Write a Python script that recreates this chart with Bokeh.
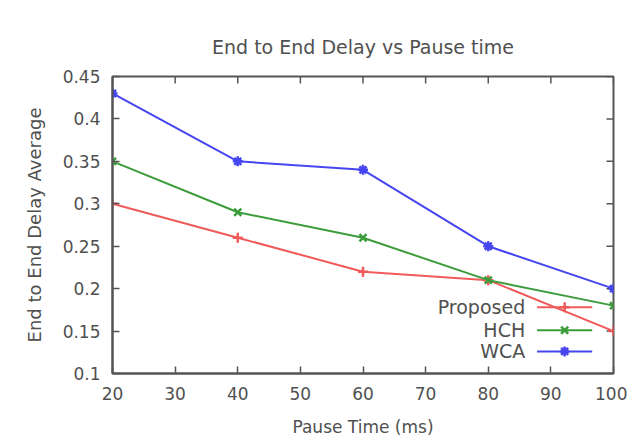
import math
from bokeh.plotting import figure
from bokeh.models import FixedTicker, Range1d, ColumnDataSource
from bokeh.core.properties import value
from bokeh.embed import file_html
from bokeh.resources import INLINE

# ---------------- data ----------------
pause_time = [20, 40, 60, 80, 100]
proposed = [0.30, 0.26, 0.22, 0.21, 0.15]
hch = [0.35, 0.29, 0.26, 0.21, 0.18]
wca = [0.43, 0.35, 0.34, 0.25, 0.20]

series_names = ["Proposed", "HCH", "WCA"]
x_ticks = [20, 30, 40, 50, 60, 70, 80, 90, 100]
y_ticks = [0.1, 0.15, 0.2, 0.25, 0.3, 0.35, 0.4, 0.45]
y_tick_labels = ["0.1", "0.15", "0.2", "0.25", "0.3", "0.35", "0.4", "0.45"]

# ---------------- style ----------------
FONT = "DejaVu Sans"
TXT = "#505050"
AX = "#555555"
colors = ["#f05a5a", "#3c9c3c", "#4646f0"]
markers = ["cross", "x", "asterisk"]

x_lo, x_hi = x_ticks[0], x_ticks[-1]
y_lo, y_hi = y_ticks[0], y_ticks[-1]

p = figure(
    frame_width=501, frame_height=297,
    min_border_left=112, min_border_right=14,
    min_border_top=76, min_border_bottom=62,
    x_range=Range1d(x_lo, x_hi), y_range=Range1d(y_lo, y_hi),
    output_backend="svg", toolbar_location=None,
    title="End to End Delay vs Pause time",
)
p.title.align = "center"
p.title.text_font = FONT
p.title.text_font_size = "19px"
p.title.text_font_style = "normal"
p.title.text_color = TXT
p.title.standoff = 38

p.background_fill_color = "white"
p.border_fill_color = "white"
p.outline_line_color = AX
p.outline_line_width = 2
p.xgrid.visible = False
p.ygrid.visible = False

p.xaxis.ticker = FixedTicker(ticks=x_ticks)
p.yaxis.ticker = FixedTicker(ticks=y_ticks)
p.yaxis.major_label_overrides = {t: l for t, l in zip(y_ticks, y_tick_labels)}
p.xaxis.axis_label = "Pause Time (ms)"
p.yaxis.axis_label = "End to End Delay Average"

for ax in (p.xaxis[0], p.yaxis[0]):
    ax.axis_line_color = AX
    ax.axis_line_width = 2
    ax.major_tick_line_color = AX
    ax.major_tick_line_width = 1.5
    ax.major_tick_in = 7
    ax.major_tick_out = 0
    ax.minor_tick_line_color = None
    ax.major_label_text_font = FONT
    ax.major_label_text_font_size = "17px"
    ax.major_label_text_color = TXT
    ax.axis_label_text_font = FONT
    ax.axis_label_text_font_size = "17px"
    ax.axis_label_text_font_style = "normal"
    ax.axis_label_text_color = TXT
p.yaxis.axis_label_text_font_size = "18px"
p.xaxis.major_label_standoff = 13
p.xaxis.axis_label_standoff = 14
p.yaxis.major_label_standoff = 12
p.yaxis.axis_label_standoff = 15

# mirrored inward ticks on the top and right edges (clipped to the frame)
p.scatter(x=x_ticks, y=[y_hi] * len(x_ticks), marker="dash", angle=math.pi / 2,
          size=14, line_color=AX, line_width=1.5)
p.scatter(x=[x_hi] * len(y_ticks), y=y_ticks, marker="dash",
          size=14, line_color=AX, line_width=1.5)

# ---------------- series ----------------
for name, ys, c, m in zip(series_names, [proposed, hch, wca], colors, markers):
    src = ColumnDataSource(dict(x=pause_time, y=ys))
    p.line("x", "y", source=src, line_color=c, line_width=2)
    p.scatter("x", "y", source=src, marker=m, size=10, line_color=c,
              fill_color=c, line_width=2.5)

# ---------------- key (gnuplot style: text right-aligned, sample on the right) ----------------
key_text_x = 85.9
key_line_x0, key_line_x1, key_mark_x = 87.8, 96.6, 92.2
key_rows = [0.178, 0.151, 0.126]
for name, ky, c, m in zip(series_names, key_rows, colors, markers):
    p.text(x=[key_text_x], y=[ky], text=[name], text_align="right",
           text_baseline="middle", text_font=value(FONT),
           text_font_size="19px", text_color=TXT)
    p.segment(x0=[key_line_x0], y0=[ky], x1=[key_line_x1], y1=[ky],
              line_color=c, line_width=2)
    p.scatter(x=[key_mark_x], y=[ky], marker=m, size=10, line_color=c,
              fill_color=c, line_width=2.5)

open("out.html", "w").write(file_html(p, INLINE))
